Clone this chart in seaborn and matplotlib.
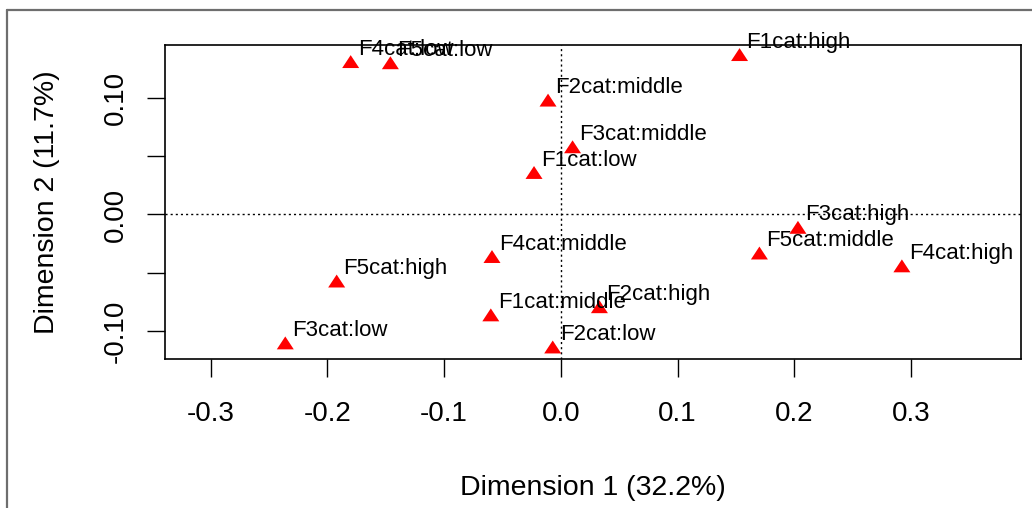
import matplotlib
matplotlib.use("Agg")
import matplotlib.pyplot as plt
from matplotlib.lines import Line2D
import seaborn as sns
import pandas as pd

categories = ["F4cat:low", "F5cat:low", "F1cat:high", "F2cat:middle", "F3cat:middle",
              "F1cat:low", "F3cat:high", "F5cat:middle", "F4cat:high", "F4cat:middle",
              "F5cat:high", "F3cat:low", "F1cat:middle", "F2cat:high", "F2cat:low"]
dim1 = [-0.180, -0.146, 0.153, -0.011, 0.010,
        -0.023, 0.203, 0.170, 0.292, -0.059,
        -0.192, -0.236, -0.060, 0.033, -0.007]
dim2 = [0.131, 0.130, 0.137, 0.098, 0.058,
        0.036, -0.011, -0.033, -0.044, -0.036,
        -0.057, -0.110, -0.086, -0.079, -0.1135]

x_ticks = [-0.3, -0.2, -0.1, 0.0, 0.1, 0.2, 0.3]
x_tick_labels = ["-0.3", "-0.2", "-0.1", "0.0", "0.1", "0.2", "0.3"]
y_ticks = [-0.10, -0.05, 0.00, 0.05, 0.10]
y_tick_labels = ["-0.10", "", "0.00", "", "0.10"]
x_label = "Dimension 1 (32.2%)"
y_label = "Dimension 2 (11.7%)"

df = pd.DataFrame({"cat": categories, "Dim1": dim1, "Dim2": dim2})

sns.set_theme(style="white")
plt.rcParams["font.family"] = ["Liberation Sans", "DejaVu Sans"]

W, H = 1032, 508
fig = plt.figure(figsize=(W / 100, H / 100), dpi=100)
fig.patch.set_facecolor("white")

# outer grey frame (partially cropped in the reference)
fig.add_artist(Line2D([7 / W, 7 / W], [0, 1 - 10 / H], transform=fig.transFigure,
                      color="#6e6e6e", lw=1.6))
fig.add_artist(Line2D([7 / W, 1], [1 - 10 / H, 1 - 10 / H], transform=fig.transFigure,
                      color="#6e6e6e", lw=1.6))

ax = fig.add_axes([165 / W, (H - 359) / H, (1021 - 165) / W, (359 - 45) / H])
ax.set_facecolor("white")

ax.axhline(0, color="black", lw=1.0, linestyle=(0, (1.5, 2.2)), zorder=1)
ax.axvline(0, color="black", lw=1.0, linestyle=(0, (1.5, 2.2)), zorder=1)

tri = [(-0.5, -0.38), (0.5, -0.38), (0.0, 0.38)]
sns.scatterplot(data=df, x="Dim1", y="Dim2", ax=ax, marker=tri, s=150,
                color="red", edgecolor="none", linewidth=0, zorder=3, legend=False)

for c, x, y in zip(categories, dim1, dim2):
    ax.annotate(c, (x, y), xytext=(5, 5), textcoords="offset points",
                ha="left", va="baseline", fontsize=16, color="black", zorder=4)

ax.set_xlim(-0.339, 0.394)
ax.set_ylim(-0.1238, 0.1452)

ax.set_xticks(x_ticks)
ax.set_xticklabels(x_tick_labels)
ax.set_yticks(y_ticks)
ax.set_yticklabels(y_tick_labels, rotation=90, va="center")

ax.tick_params(axis="both", direction="out", length=13, width=1.0, color="black",
               labelsize=20, labelcolor="black")
ax.tick_params(axis="x", pad=17, bottom=True)
ax.tick_params(axis="y", pad=13, left=True)

for sp in ax.spines.values():
    sp.set_visible(True)
    sp.set_color("black")
    sp.set_linewidth(1.2)

ax.set_xlabel(x_label, fontsize=20.5, labelpad=35, color="black")
ax.set_ylabel(y_label, fontsize=20.5, labelpad=31, color="black")

fig.savefig("out.png", dpi=100, facecolor="white")
